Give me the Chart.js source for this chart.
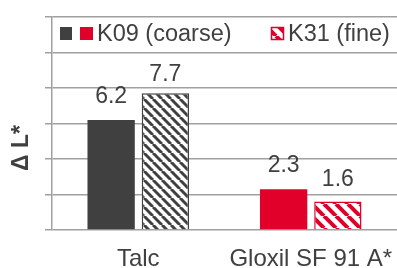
<!DOCTYPE html>
<html>
<head>
<meta charset="utf-8">
<script src="https://cdn.jsdelivr.net/npm/chart.js@4"></script>
<style>
  html, body { margin: 0; padding: 0; background: #fff; }
  #wrap { width: 397px; height: 268px; }
</style>
</head>
<body>
<div id="wrap"><canvas id="grafico" width="397" height="268"></canvas></div>
<script>
const categorias = ["Talc", "Gloxil SF 91 A*"];
const serieK09 = [6.2, 2.3];
const serieK31 = [7.7, 1.6];
const nomesSeries = ["K09 (coarse)", "K31 (fine)"];
const tituloY = "Δ L*";
const yMin = 0, yMax = 12, yPasso = 2;

const CINZA = "#404040";
const VERMELHO = "#e0002a";
const GRADE = "#a0a0a0";
const FONTE = "'Liberation Sans', Arial, sans-serif";

const canvas = document.getElementById("grafico");
const ctx = canvas.getContext("2d");

// hachura diagonal (\) em fundo branco
function hachura(cor, passo, largura) {
  const c = document.createElement("canvas");
  c.width = passo;
  c.height = passo;
  const g = c.getContext("2d");
  g.fillStyle = "#fff";
  g.fillRect(0, 0, passo, passo);
  g.strokeStyle = cor;
  g.lineWidth = largura;
  for (let k = -1; k <= 1; k++) {
    g.beginPath();
    g.moveTo(k * passo, 0);
    g.lineTo(k * passo + passo, passo);
    g.stroke();
  }
  return ctx.createPattern(c, "repeat");
}

const hachCinza = hachura(CINZA, 9, 3);
const hachVermelho = hachura(VERMELHO, 12, 4);

// distancia entre o rotulo e o topo da barra
const folgaRotulo = [[17, 17], [12, 16]];

const extras = {
  id: "extras",
  afterDatasetsDraw(chart) {
    const c = chart.ctx;
    c.save();
    c.fillStyle = CINZA;
    c.font = "23px " + FONTE;
    c.textAlign = "center";
    c.textBaseline = "alphabetic";
    chart.data.datasets.forEach((ds, i) => {
      chart.getDatasetMeta(i).data.forEach((bar, j) => {
        c.fillText(ds.data[j].toFixed(1), bar.x, bar.y - folgaRotulo[i][j]);
      });
    });
    c.restore();
  },
  afterDraw(chart) {
    const c = chart.ctx;
    c.save();
    // legenda
    c.fillStyle = CINZA;
    c.fillRect(60, 27, 12, 13);
    c.fillStyle = VERMELHO;
    c.fillRect(80, 27, 13, 13);
    c.fillStyle = hachVermelho;
    c.fillRect(271, 27, 13, 13);
    c.strokeStyle = VERMELHO;
    c.lineWidth = 1.5;
    c.strokeRect(271.5, 27.5, 12, 12);
    c.fillStyle = CINZA;
    c.font = "23.5px " + FONTE;
    c.textAlign = "left";
    c.textBaseline = "alphabetic";
    c.fillText(nomesSeries[0], 97, 41);
    c.fillText(nomesSeries[1], 288, 41);
    // titulo do eixo y
    c.translate(28, 148);
    c.rotate(-Math.PI / 2);
    c.font = "bold 23px " + FONTE;
    c.textAlign = "center";
    c.fillText(tituloY, 0, 0);
    c.restore();
  }
};

new Chart(ctx, {
  type: "bar",
  data: {
    labels: categorias,
    datasets: [
      {
        label: nomesSeries[0],
        data: serieK09,
        backgroundColor: [CINZA, VERMELHO],
        borderWidth: 0
      },
      {
        label: nomesSeries[1],
        data: serieK31,
        backgroundColor: [hachCinza, hachVermelho],
        borderColor: [CINZA, VERMELHO],
        borderWidth: 1.5
      }
    ]
  },
  options: {
    responsive: false,
    animation: false,
    layout: { padding: { top: 17, right: -5, left: 0, bottom: 0 } },
    datasets: { bar: { categoryPercentage: 0.6286, barPercentage: 0.8727 } },
    plugins: { legend: { display: false }, tooltip: { enabled: false } },
    scales: {
      x: {
        grid: { display: false, drawTicks: false },
        border: { display: false },
        ticks: { color: CINZA, font: { family: FONTE, size: 24 }, padding: 15 },
        afterFit: s => {
          s.height = 38;
          s.paddingLeft = 0;
          s.paddingRight = 0;
        }
      },
      y: {
        min: yMin,
        max: yMax,
        ticks: { display: false, stepSize: yPasso },
        grid: { color: GRADE, lineWidth: 1.5, tickLength: 7 },
        border: { color: GRADE, width: 1.5 },
        afterFit: s => { s.width = 52; }
      }
    }
  },
  plugins: [extras]
});
</script>
</body>
</html>
